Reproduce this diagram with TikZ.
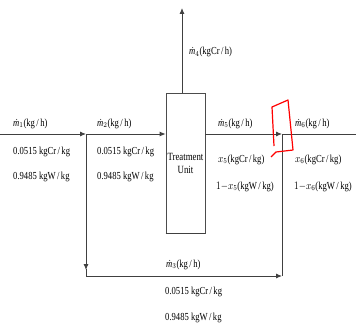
\documentclass[tikz,border=0pt]{standalone}
\usepackage{graphicx}
\usepackage{fontspec}
\setmainfont{Liberation Serif}
\usetikzlibrary{positioning,arrows.meta,calc}
\newcommand{\vtall}[1]{\scalebox{1}[1.25]{#1}}
\newcommand{\mdot}[1]{\textit{ṁ}$_{#1}$}

\begin{document}
\begin{tikzpicture}[
    x=1pt, y=-1pt,
    flow/.style={draw=black!75, line width=0.9pt},
    tip/.style={flow, -{Latex[length=6pt, width=5pt]}},
    unitbox/.style={rectangle, draw=black!70, line width=0.7pt, fill=white,
                    minimum width=39pt, minimum height=140pt, inner sep=0pt,
                    align=center, font=\fontsize{8.8}{13}\selectfont},
    lbl/.style={anchor=base west, inner sep=0pt, font=\fontsize{8.6}{10}\selectfont},
]
\useasboundingbox (0,0) rectangle (356,329);

% Points of the flow sheet
\coordinate (feed) at (0,134);
\coordinate (split) at (86,134);
\coordinate (mix) at (282,134);
\coordinate (prod) at (356,134);
\coordinate (vent) at (182,8);
\coordinate (bl) at (86,276);
\coordinate (br) at (282,276);

% Treatment unit
\node[unitbox] (unit) at (185.5,163) {\vtall{Treatment}\\\vtall{Unit}};
\draw[black!75, line width=1.5pt] (unit.south west) -- (unit.south east);

% Main line
\draw[tip] (feed) -- (split);
\draw[tip] (split) -- (split -| unit.west);
\draw[tip] (mix -| unit.east) -- (mix);
\draw[flow] (mix) -- (prod);
\draw[tip] (unit.north -| vent) -- (vent);

% Bypass
\draw[tip] (split) -- ($(bl)+(0,-6)$);
\draw[flow] ($(bl)+(0,-7)$) -- (bl);
\draw[tip] (bl) -- (br);
\draw[flow] (br) -- (mix);

% Stream labels
\node[lbl] (m1) at (13,126) {\vtall{\mdot{1}(kg\,/\,h)}};
\node[lbl] (c1) at (13,154) {\vtall{0.0515 kgCr\,/\,kg}};
\node[lbl] (w1) at (13,179) {\vtall{0.9485 kgW\,/\,kg}};

\node[lbl] (m2) at (97,126) {\vtall{\mdot{2}(kg\,/\,h)}};
\node[lbl] (c2) at (97,154) {\vtall{0.0515 kgCr\,/\,kg}};
\node[lbl] (w2) at (97,179) {\vtall{0.9485 kgW\,/\,kg}};

\node[lbl] (m4) at (189,55) {\vtall{\mdot{4}(kgCr\,/\,h)}};

\node[lbl] (m5) at (218,126) {\vtall{\mdot{5}(kg\,/\,h)}};
\node[lbl] (c5) at (218,162) {\vtall{$x_5$(kgCr\,/\,kg)}};
\node[lbl] (w5) at (216,189) {\vtall{$1{-}x_5$(kgW\,/\,kg)}};

\node[lbl] (m6) at (295,126) {\vtall{\mdot{6}(kg\,/\,h)}};
\node[lbl] (c6) at (295,162) {\vtall{$x_6$(kgCr\,/\,kg)}};
\node[lbl] (w6) at (294,189) {\vtall{$1{-}x_6$(kgW\,/\,kg)}};

\node[lbl] (m3) at (166,267) {\vtall{\mdot{3}(kg\,/\,h)}};
\node[lbl] (c3) at (165,294) {\vtall{0.0515 kgCr\,/\,kg}};
\node[lbl] (w3) at (165,320) {\vtall{0.9485 kgW\,/\,kg}};

% Hand mark round the mixing point
\draw[red, line width=1.2pt, line join=round]
    (274,146) -- (272,107) -- (288,100) -- (293,150) -- (276,152) -- (271,157);
\end{tikzpicture}
\end{document}
